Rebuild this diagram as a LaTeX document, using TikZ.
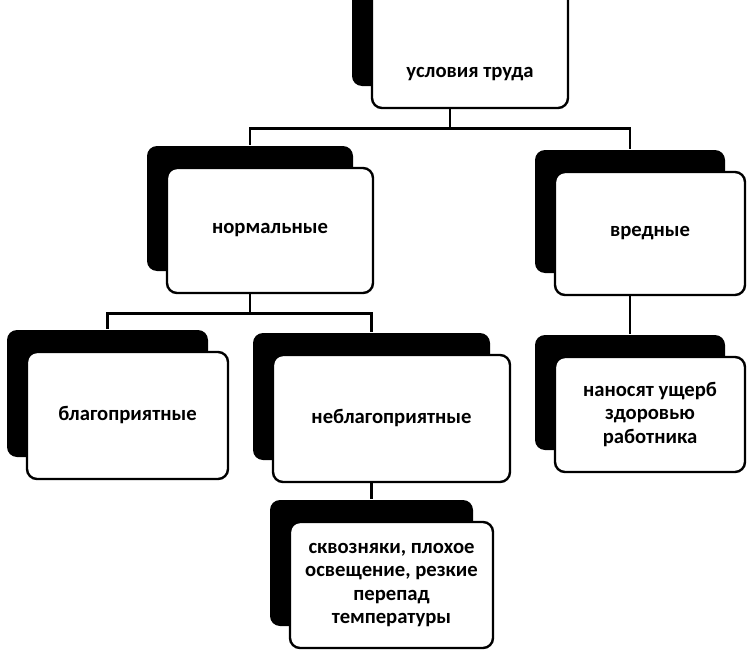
\documentclass[tikz,border=0pt]{standalone}
\usepackage{fontspec}
\setmainfont{Carlito}
\usetikzlibrary{shadows}

\begin{document}
\begin{tikzpicture}[
   x=0.75pt,y=-0.75pt,
   box/.style={draw,fill=white,line width=1.8pt,rounded corners=7.5pt,
      align=center,font=\bfseries\fontsize{15.5}{17.5}\selectfont,
      drop shadow={shadow xshift=-15pt,shadow yshift=16.5pt,fill=black,opacity=1}},
   link/.style={line width=2.2pt}]
\useasboundingbox (0,0) rectangle (747,653);
% boxes
\node[box,minimum width=147pt,minimum height=90pt,text height=47pt,text depth=3pt]
   (cond) at (470,48) {условия труда};
\node[box,minimum width=154.5pt,minimum height=93.75pt] (norm) at (270,230.5) {нормальные};
\node[box,minimum width=142.5pt,minimum height=92.25pt] (harm) at (650,233.5) {вредные};
\node[box,minimum width=150.75pt,minimum height=95.25pt] (fav) at (127.5,415.5) {благоприятные};
\node[box,minimum width=177.75pt,minimum height=95.25pt] (unfav) at (391.5,418.5) {неблагоприятные};
\node[box,minimum width=142.5pt,minimum height=86.25pt] (dmg) at (650,414.5)
   {наносят ущерб\\здоровью\\работника};
\node[box,minimum width=152.25pt,minimum height=94.5pt] (draft) at (391.5,585)
   {сквозняки, плохое\\освещение, резкие\\перепад\\температуры};
% connectors
\draw[link] ([xshift=-15pt]cond.south) -- ++(0,19) -| ([xshift=-15pt,yshift=16.5pt]norm.north);
\draw[link] ([xshift=-15pt]cond.south) -- ++(0,19) -| ([xshift=-15pt,yshift=16.5pt]harm.north);
\draw[link] ([xshift=-15pt]norm.south) -- ++(0,19) -| ([xshift=-15pt,yshift=16.5pt]fav.north);
\draw[link] ([xshift=-15pt]norm.south) -- ++(0,19) -| ([xshift=-15pt,yshift=16.5pt]unfav.north);
\draw[link] ([xshift=-15pt]unfav.south) -- ([xshift=-15pt,yshift=16.5pt]draft.north);
\draw[link] ([xshift=-15pt]harm.south) -- ([xshift=-15pt,yshift=16.5pt]dmg.north);
\end{tikzpicture}
\end{document}
